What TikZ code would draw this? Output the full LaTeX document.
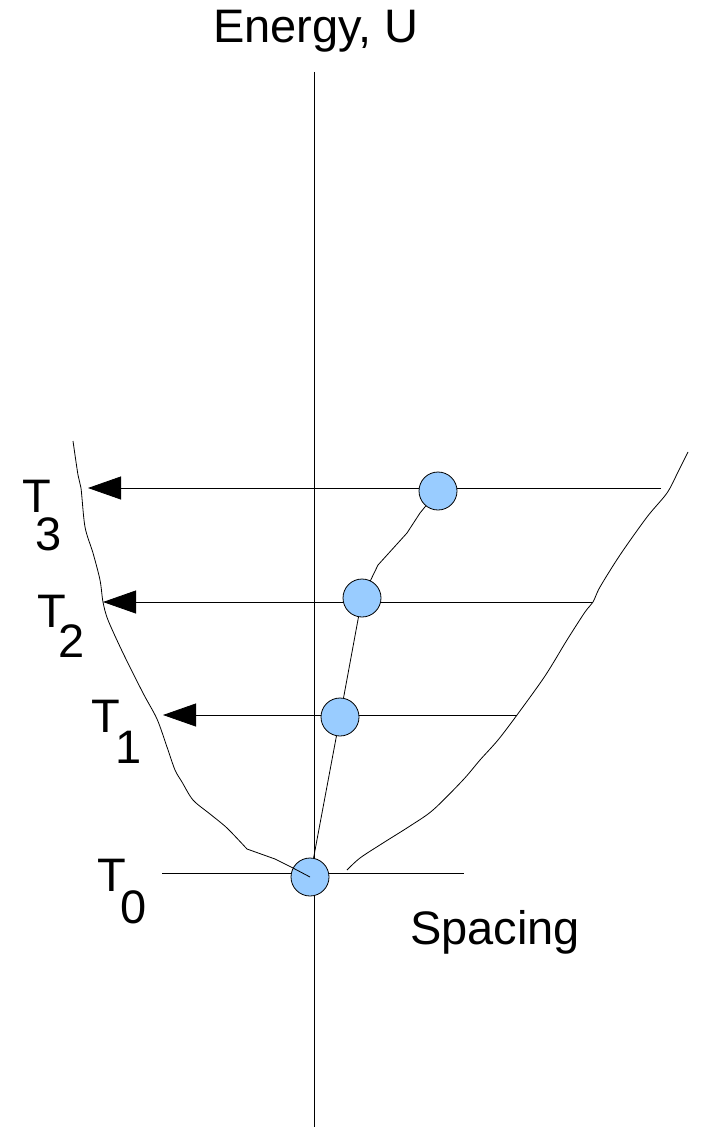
\documentclass[tikz,border=0pt]{standalone}
\usepackage{fontspec}
\setmainfont{Liberation Sans}
\usetikzlibrary{arrows.meta}
\begin{document}
\begin{tikzpicture}[x=1pt,y=-1pt,
  thinline/.style={line width=0.8pt,black},
  level/.style={line width=0.8pt,black,-{Triangle[length=33pt,width=23pt]}},
  ball/.style={circle,draw=black,line width=0.8pt,fill=ballblue,minimum size=38pt,inner sep=0pt},
  lbl/.style={inner sep=0pt,font=\fontsize{47pt}{50pt}\selectfont}]
\definecolor{ballblue}{HTML}{99CCFF}
\useasboundingbox (0,0) rectangle (703,1129);
% axis
\coordinate (axtop) at (314,72);
\coordinate (axbot) at (314,1127);
\draw[line width=1pt] (axtop) -- (axbot);
% level lines
\coordinate (l0a) at (162,873); \coordinate (l0b) at (464,873);
\coordinate (l1a) at (163,715); \coordinate (l1b) at (517,715);
\coordinate (l2a) at (103,602); \coordinate (l2b) at (593,602);
\coordinate (l3a) at (88,488);  \coordinate (l3b) at (661,488);
\draw[thinline] (l0a) -- (l0b);
\draw[level] (l1b) -- (l1a);
\draw[level] (l2b) -- (l2a);
\draw[level] (l3b) -- (l3a);
% path through the balls
\coordinate (p0) at (310,877);
\coordinate (p1) at (340,717);
\coordinate (p2) at (362,598);
\coordinate (p3) at (438,491);
\draw[thinline] (p0) -- (p1) -- (p2) -- (378,565) -- (407,533) -- (420,513) -- (p3);
\node[ball] (c0) at (p0) {};
\node[ball] (c1) at (p1) {};
\node[ball] (c2) at (p2) {};
\node[ball] (c3) at (p3) {};
% left wall
\draw[thinline] plot[smooth,tension=0.5] coordinates {(73,441) (78,475) (81,488) (85,527) (93,553) (100,580) (103,602) (108,620) (123,653) (143,693) (157,719) (167,747) (175,770) (182,782) (193,800) (210,814) (227,828) (247,849)}
  -- (275,859) -- (293,868) -- (c0.center);
% right wall
\draw[thinline] plot[smooth,tension=0.5] coordinates {(347,870) (360,858) (383,843) (410,826) (433,810) (463,780) (480,760) (498,740) (517,715) (545,676) (567,640) (585,612) (593,602) (600,587) (620,555) (647,517) (667,493) (678,472) (688,452)};
% labels
\node[lbl,anchor=base] (energy) at (316,43) {Energy, U};
\node[lbl,anchor=base west] (spacing) at (410,944) {Spacing};
\node[lbl,anchor=base west] (t3) at (22,512) {T\hspace{-15pt}\raisebox{-38pt}{3}};
\node[lbl,anchor=base west] (t2) at (37,627) {T\hspace{-7.6pt}\raisebox{-30pt}{2}};
\node[lbl,anchor=base west] (t1) at (91,732) {T\hspace{-4pt}\raisebox{-31pt}{1}};
\node[lbl,anchor=base west] (t0) at (97,891) {T\hspace{-5pt}\raisebox{-32pt}{0}};
\end{tikzpicture}
\end{document}
